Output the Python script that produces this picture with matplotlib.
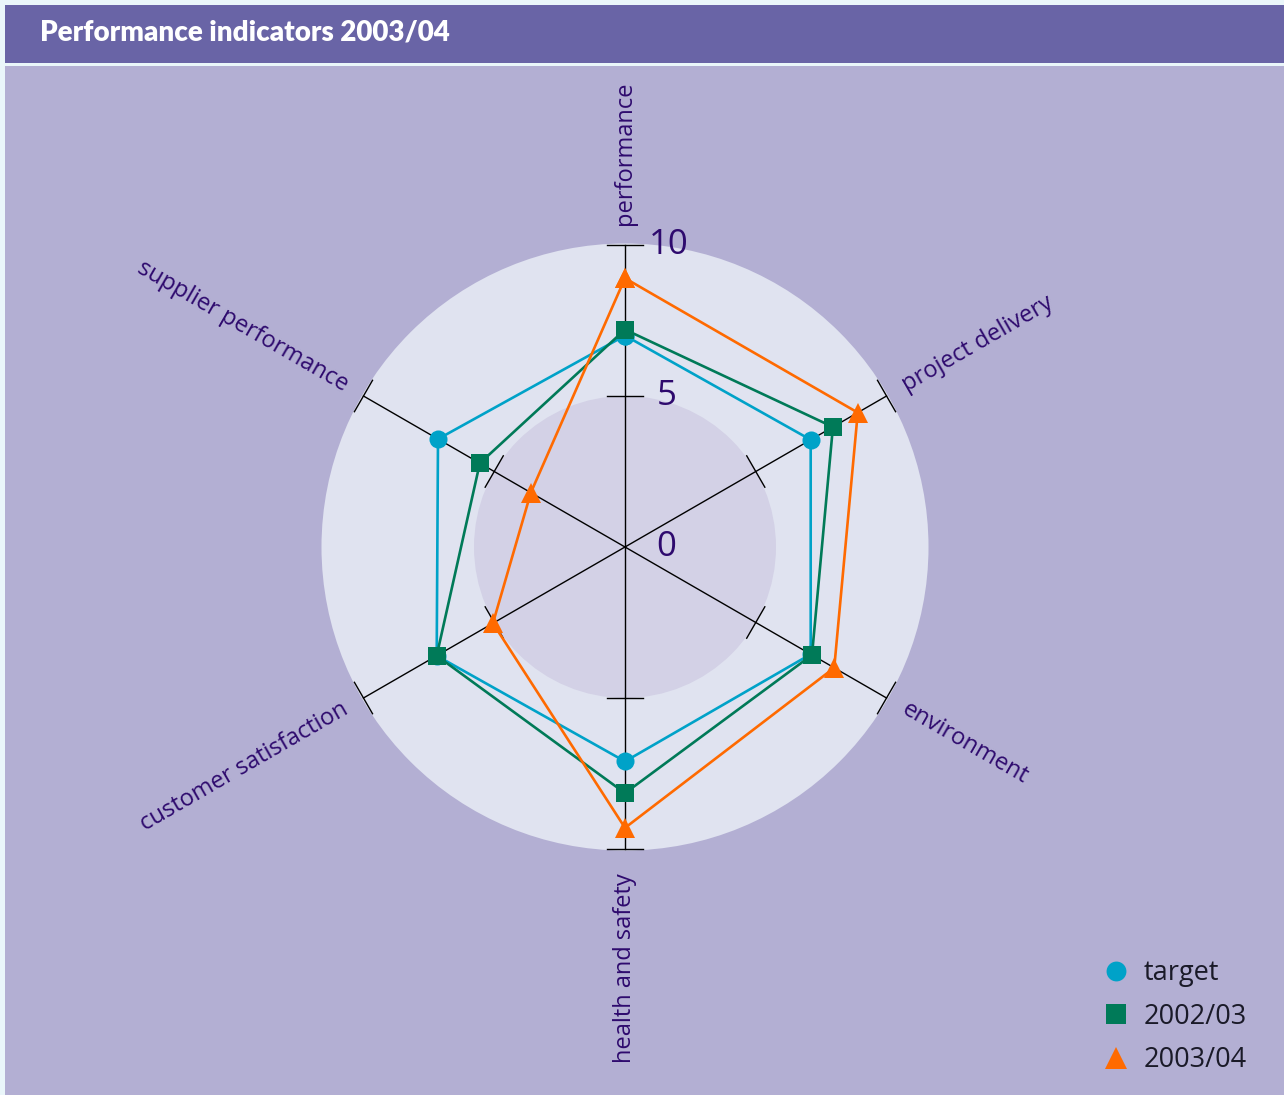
import numpy as np
import matplotlib as mpl

mpl.use('Agg')
import matplotlib.pyplot as plt
from matplotlib.patches import Rectangle, Circle

# axes, clockwise from the top
categories = ["performance", "project delivery", "environment",
              "health and safety", "customer satisfaction", "supplier performance"]
target = [7.0, 7.1, 7.1, 7.1, 7.2, 7.15]
year_0203 = [7.2, 7.95, 7.15, 8.15, 7.2, 5.55]
year_0304 = [8.9, 8.9, 8.0, 9.3, 5.05, 3.6]
scale_ticks = [5, 10]
scale_labels = ["0", "5", "10"]

W, H = 1284, 1095
fig = plt.figure(figsize=(W / 100, H / 100), dpi=100, facecolor='#eaf6fa')

# background panels in pixel coordinates
bg = fig.add_axes([0, 0, 1, 1])
bg.set_xlim(0, W)
bg.set_ylim(H, 0)
bg.axis('off')
bg.add_patch(Rectangle((5, 5), W - 5, 58, color='#6964a6', lw=0))
bg.add_patch(Rectangle((5, 66), W - 5, H - 66, color='#b3afd3', lw=0))
bg.text(40, 33, "Performance indicators 2003/04", color='white', fontsize=20,
        fontweight='heavy', family='Lato', va='center', ha='left')

# radar axes: 1 unit = 30.2 px, centre at (625, 547)
unit = 30.2
cx, cy = 625, 547
half = 11
ax = fig.add_axes([(cx - half * unit) / W, (H - cy - half * unit) / H,
                   2 * half * unit / W, 2 * half * unit / H])
ax.set_xlim(-half, half)
ax.set_ylim(-half, half)
ax.axis('off')

ax.add_patch(Circle((0, 0), 10.05, color='#e0e3f0', lw=0, zorder=0))
ax.add_patch(Circle((0, 0), 5.0, color='#d3d1e6', lw=0, zorder=0))

n = len(categories)
angles = np.pi / 2 - np.arange(n) * 2 * np.pi / n
ux, uy = np.cos(angles), np.sin(angles)

for i in range(n):
    ax.plot([0, 10 * ux[i]], [0, 10 * uy[i]], color='black', lw=1.0, zorder=1)
    px, py = -uy[i], ux[i]
    for t in scale_ticks:
        ax.plot([t * ux[i] - 0.6 * px, t * ux[i] + 0.6 * px],
                [t * uy[i] - 0.6 * py, t * uy[i] + 0.6 * py],
                color='black', lw=1.0, zorder=1)

label_color = '#2e0a6e'
for i, name in enumerate(categories):
    deg = np.degrees(angles[i])
    r = 10.8 if uy[i] < -0.99 else 10.65
    x, y = r * ux[i], r * uy[i]
    if abs(ux[i]) < 1e-6:
        rot = 90
        ha = 'left' if uy[i] > 0 else 'right'
    elif ux[i] > 0:
        rot = deg
        ha = 'left'
    else:
        rot = deg - 180
        ha = 'right'
    ax.text(x, y, name, rotation=rot, rotation_mode='anchor', ha=ha, va='center',
            color=label_color, fontsize=17, family='Open Sans', clip_on=False)

for val, lab, dx in zip([0] + scale_ticks, scale_labels, [1.05, 1.05, 0.8]):
    ax.text(dx, val, lab, ha='left', va='center', color=label_color,
            fontsize=25, family='Open Sans')

series = [
    (target, 'target', '#00a2c8', 'o', 13),
    (year_0203, '2002/03', '#007a58', 's', 12.5),
    (year_0304, '2003/04', '#ff6a00', '^', 15),
]
for vals, name, col, mk, ms in series:
    v = np.array(vals + vals[:1])
    a = np.concatenate([angles, angles[:1]])
    ax.plot(v * np.cos(a), v * np.sin(a), color=col, lw=1.9, marker=mk,
            markersize=ms, markeredgewidth=0, zorder=3, label=name)

handles = ax.get_lines()[-3:]
leg = fig.legend(handles, [h.get_label() for h in handles],
                 loc='upper left', bbox_to_anchor=(1104 / W, 1 - 959 / H),
                 frameon=False, handlelength=0.9, handletextpad=0.55,
                 labelspacing=0.58, borderpad=0, borderaxespad=0,
                 markerscale=1.1,
                 prop={'family': 'Open Sans', 'size': 19.5})
for line in leg.get_lines():
    line.set_linestyle('none')
for txt in leg.get_texts():
    txt.set_color('#1a1a28')

fig.savefig('out.png', dpi=100, facecolor=fig.get_facecolor())
